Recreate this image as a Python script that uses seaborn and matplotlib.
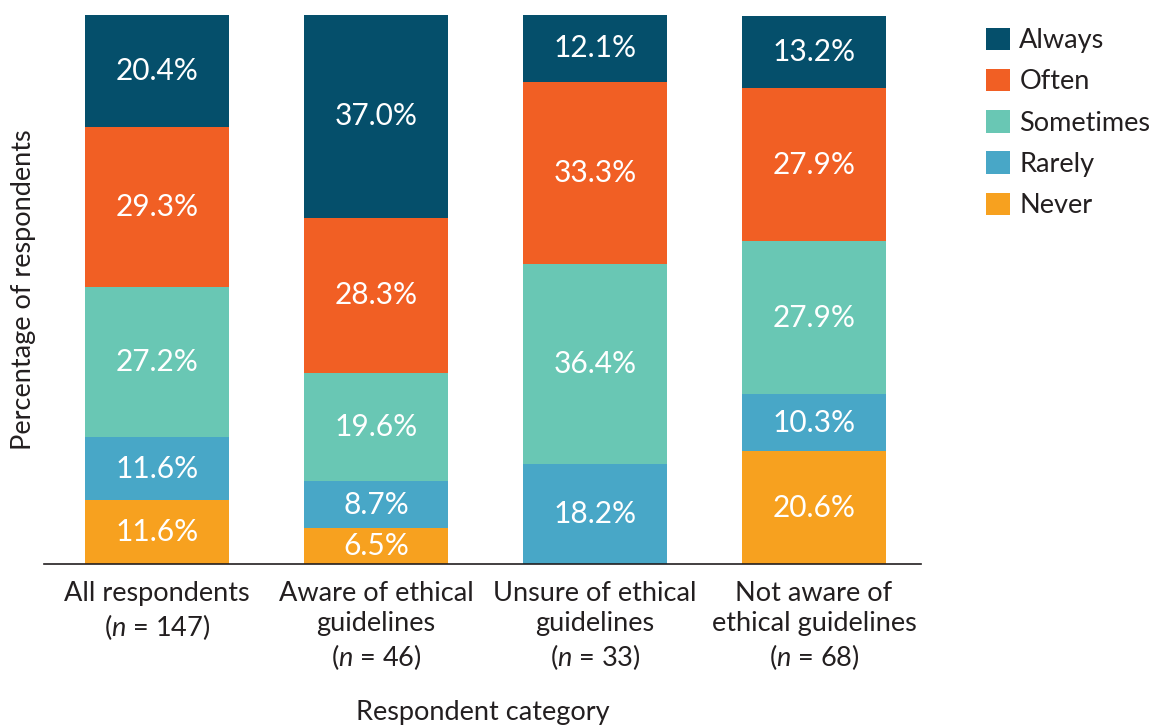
import pandas as pd
import matplotlib.pyplot as plt
import seaborn as sns

# datos
categories = [
    "All respondents\n($n$ = 147)",
    "Aware of ethical\nguidelines\n($n$ = 46)",
    "Unsure of ethical\nguidelines\n($n$ = 33)",
    "Not aware of\nethical guidelines\n($n$ = 68)",
]
always = [20.4, 37.0, 12.1, 13.2]
often = [29.3, 28.3, 33.3, 27.9]
sometimes = [27.2, 19.6, 36.4, 27.9]
rarely = [11.6, 8.7, 18.2, 10.3]
never = [11.6, 6.5, 0.0, 20.6]

# orden de apilado (de abajo hacia arriba)
series = [
    ("Never", never, "#F7A11F"),
    ("Rarely", rarely, "#48A7C7"),
    ("Sometimes", sometimes, "#69C7B4"),
    ("Often", often, "#F15F24"),
    ("Always", always, "#054F6B"),
]

sns.set_style("white")
plt.rcParams["font.family"] = ["Lato", "DejaVu Sans"]
plt.rcParams["mathtext.fontset"] = "custom"
plt.rcParams["mathtext.rm"] = "Lato"
plt.rcParams["mathtext.it"] = "Lato:italic"
text_color = "#231F20"

fig = plt.figure(figsize=(11.59, 7.25), dpi=100)
ax = fig.add_axes([0.038, 0.222, 0.757, 0.757])

bottom = [0.0] * len(categories)
handles = []
for name, vals, color in series:
    df = pd.DataFrame({"cat": categories, "val": vals})
    sns.barplot(data=df, x="cat", y="val", bottom=bottom, color=color,
                width=0.66, ax=ax, linewidth=0, saturation=1, legend=False)
    cont = ax.containers[-1]
    labels = [f"{v:.1f}%" if v > 0 else "" for v in vals]
    ax.bar_label(cont, labels=labels, label_type="center", color="white",
                 fontsize=21.5)
    handles.append(cont.patches[0])
    bottom = [b + v for b, v in zip(bottom, vals)]

ax.set_xlim(-0.515, 3.49)
ax.set_ylim(0, 100)
ax.set_yticks([])
for s in ["top", "right", "left"]:
    ax.spines[s].set_visible(False)
ax.spines["bottom"].set_color(text_color)
ax.spines["bottom"].set_linewidth(1.2)
ax.tick_params(axis="x", length=0, pad=12, labelsize=19.5, colors=text_color)
for t in ax.get_xticklabels():
    t.set_linespacing(1.26)

ax.set_xlabel("Respondent category", fontsize=19.5, color=text_color, labelpad=20)
ax.set_ylabel("Percentage of respondents", fontsize=19.5, color=text_color, labelpad=6)

leg_names = [s[0] for s in series][::-1]
fig.legend(handles[::-1], leg_names, loc="upper left",
           bbox_to_anchor=(0.841, 0.977), frameon=False, fontsize=19.5,
           handlelength=0.9, handleheight=0.9, handletextpad=0.35,
           labelspacing=0.58, labelcolor=text_color, borderaxespad=0)

plt.savefig("out.png", dpi=100)
